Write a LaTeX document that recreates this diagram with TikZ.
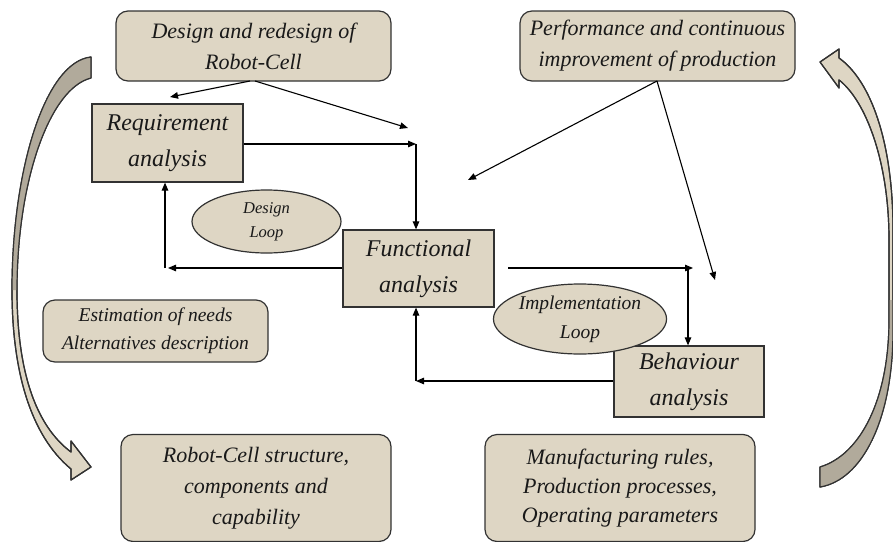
\documentclass[tikz,border=0pt]{standalone}
\usepackage{fontspec}
\setmainfont{Liberation Serif}
\usetikzlibrary{arrows.meta,shapes.geometric}

\definecolor{tan}{RGB}{222,214,196}
\definecolor{tandark}{RGB}{177,170,155}
\definecolor{edge}{RGB}{50,50,50}
\definecolor{ink}{RGB}{25,25,25}

\tikzset{
  base/.style={draw=edge, line width=1.2pt, fill=tan, text=ink, inner sep=0pt, align=center},
  infobox/.style={base, rounded corners=12pt, font=\fontsize{22}{31}\selectfont\itshape},
  stagebox/.style={base, font=\fontsize{24}{36}\selectfont\itshape},
  loopell/.style={base, ellipse},
  conn/.style={draw=black, line width=1.1pt},
  arr/.style={conn, -{Triangle[length=8pt,width=6.5pt]}},
  bigarrow/.style={draw=edge, line width=1.2pt, fill=tan, line join=round},
}

\begin{document}
\begin{tikzpicture}[x=1pt,y=-1pt]
\useasboundingbox (0,0) rectangle (893,541);

% curved arrow on the left (tail at top, head at bottom)
\path[bigarrow] (91,57) .. controls (45,62) and (12,170) .. (12,290)
  .. controls (12,370) and (30,435) .. (71,469)
  -- (71,480) -- (91,467) -- (71,441) -- (71,452)
  .. controls (35,425) and (17,370) .. (17,290)
  .. controls (17,180) and (50,88) .. (91,78) -- cycle;
\fill[tandark] (91,57) .. controls (45,62) and (12,170) .. (12,290)
  -- (17,290) .. controls (17,180) and (50,88) .. (91,78) -- cycle;
\draw[edge, line width=1.2pt, line join=round] (91,57) .. controls (45,62) and (12,170) .. (12,290)
  .. controls (12,370) and (30,435) .. (71,469)
  -- (71,480) -- (91,467) -- (71,441) -- (71,452)
  .. controls (35,425) and (17,370) .. (17,290)
  .. controls (17,180) and (50,88) .. (91,78) -- cycle;

% curved arrow on the right (tail at bottom, head at top)
\path[bigarrow] (820,487) .. controls (862,480) and (893,420) .. (893,330)
  -- (893,230) .. controls (893,140) and (870,80) .. (839,58)
  -- (839,49) -- (820,62) -- (839,88) -- (839,80)
  .. controls (865,100) and (889,160) .. (889,240)
  -- (889,320) .. controls (889,400) and (860,455) .. (820,467) -- cycle;
\fill[tandark] (820,487) .. controls (862,480) and (893,420) .. (893,330)
  -- (893,300) -- (889,300) -- (889,320)
  .. controls (889,400) and (860,455) .. (820,467) -- cycle;
\draw[edge, line width=1.2pt, line join=round] (820,487) .. controls (862,480) and (893,420) .. (893,330)
  -- (893,230) .. controls (893,140) and (870,80) .. (839,58)
  -- (839,49) -- (820,62) -- (839,88) -- (839,80)
  .. controls (865,100) and (889,160) .. (889,240)
  -- (889,320) .. controls (889,400) and (860,455) .. (820,467) -- cycle;

% information boxes
\node[infobox, minimum width=275pt, minimum height=70pt] (design) at (253.5,46)
  {Design and redesign of\\Robot-Cell};
\node[infobox, minimum width=275pt, minimum height=70pt] (perf) at (657.5,46)
  {Performance and continuous\\improvement of production};
\node[infobox, minimum width=225pt, minimum height=62pt, font=\fontsize{19.5}{28}\selectfont\itshape] (est) at (155.5,331)
  {Estimation of needs\\Alternatives description};
\node[infobox, minimum width=270pt, minimum height=107pt] (robot) at (256,488)
  {Robot-Cell structure,\\components and\\capability};
\node[infobox, minimum width=270pt, minimum height=107pt, font=\fontsize{22}{29}\selectfont\itshape] (manuf) at (620,488)
  {Manufacturing rules,\\Production processes,\\Operating parameters};

% analysis stages
\node[stagebox, minimum width=151pt, minimum height=78pt] (req) at (167.5,143) {Requirement\\analysis};
\node[stagebox, minimum width=151pt, minimum height=77pt] (func) at (418.5,268.5) {Functional\\analysis};
\node[stagebox, minimum width=150pt, minimum height=71pt] (behav) at (689,381.5) {Behaviour\\analysis};

% loops
\node[loopell, minimum width=149pt, minimum height=63pt, font=\fontsize{16.5}{24}\selectfont\itshape] (dloop) at (266.5,221.5) {Design\\Loop};
\node[loopell, minimum width=172pt, minimum height=70pt, font=\fontsize{19.5}{29}\selectfont\itshape] (iloop) at (580,319) {Implementation\\Loop};

% connector end points
\coordinate (dsL) at (250,81);
\coordinate (dsR) at (255,81);
\coordinate (d1) at (170,97);
\coordinate (d2) at (408,128);
\coordinate (rq) at (416,144);
\coordinate (fl) at (168,268);
\coordinate (fc) at (165,268);
\coordinate (fr0) at (508,268);
\coordinate (fr) at (693,268);
\coordinate (fb) at (688,268);
\coordinate (bl) at (416,381);
\coordinate (ps) at (657,81);
\coordinate (p1) at (468,180);
\coordinate (p2) at (715,280);

% design loop connectors
\draw[arr] (dsL) -- (d1);
\draw[arr] (dsR) -- (d2);
\draw[arr] (req.east |- rq) -- (rq);
\draw[arr] (rq) -- (rq |- func.north);
\draw[arr] (func.west |- fl) -- (fl);
\draw[arr] (fc) -- (fc |- req.south);

% implementation loop connectors
\draw[arr] (fr0) -- (fr);
\draw[arr] (fb) -- (fb |- behav.north);
\draw[arr] (behav.west |- bl) -- (bl);
\draw[arr] (bl) -- (bl |- func.south);

% performance connectors
\draw[arr] (ps) -- (p1);
\draw[arr] (ps) -- (p2);
\end{tikzpicture}
\end{document}
